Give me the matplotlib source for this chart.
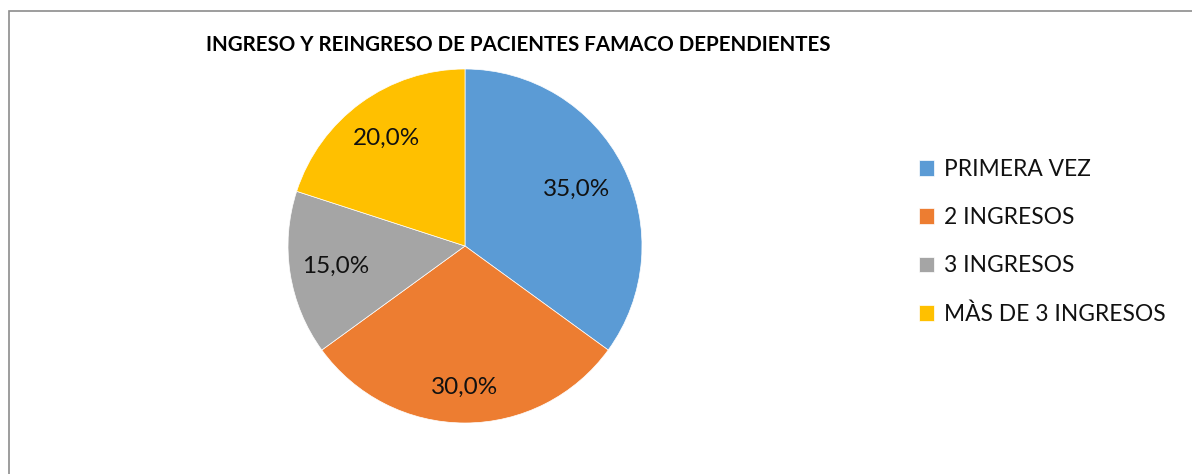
import numpy as np
import matplotlib.pyplot as plt
from matplotlib.patches import Rectangle

plt.rcParams['font.family'] = ['Lato', 'DejaVu Sans']

categorias = ['PRIMERA VEZ', '2 INGRESOS', '3 INGRESOS', 'MÀS DE 3 INGRESOS']
porcentajes = [35.0, 30.0, 15.0, 20.0]
colores = ['#5B9BD5', '#ED7D31', '#A5A5A5', '#FFC000']
titulo = 'INGRESO Y REINGRESO DE PACIENTES FAMACO DEPENDIENTES'

fig = plt.figure(figsize=(11.92, 4.74), dpi=100)

# marco gris del grafico (solo se ven el borde izquierdo y el superior)
fig.patches.append(Rectangle((9 / 1192, -0.1), 1.2, (474 - 11) / 474 + 0.1,
                             transform=fig.transFigure, fill=False,
                             edgecolor='#8C8C8C', linewidth=1.2))

ax = fig.add_axes([288 / 1192, (474 - 423) / 474, 354 / 1192, 354 / 474])
wedges, textos, autotextos = ax.pie(
    porcentajes, colors=colores, startangle=90, counterclock=False,
    autopct=lambda p: f'{p:.1f}%'.replace('.', ','), pctdistance=0.72,
    wedgeprops=dict(edgecolor='white', linewidth=0.5),
    textprops=dict(fontsize=17.5, color='#111111'))

# excel coloca las etiquetas a distinta distancia del centro ("mejor ajuste")
distancias = [0.71, 0.80, 0.74, 0.75]
for w, t, d in zip(wedges, autotextos, distancias):
    ang = np.deg2rad((w.theta1 + w.theta2) / 2)
    t.set_position((d * np.cos(ang), d * np.sin(ang)))

ax.set_xlim(-1, 1)
ax.set_ylim(-1, 1)
ax.set_aspect('equal')

fig.text(518 / 1192, 1 - 45 / 474, titulo, ha='center', va='center',
         fontsize=14.8, fontweight='bold', color='black')

fig.legend(wedges, categorias, loc='center left',
           bbox_to_anchor=(898 / 1192, 1 - 242 / 474), frameon=False,
           fontsize=16.4, handlelength=0.68, handleheight=0.68,
           handletextpad=0.42, labelspacing=1.2, labelcolor='#111111')

fig.savefig('out.png', dpi=100)
